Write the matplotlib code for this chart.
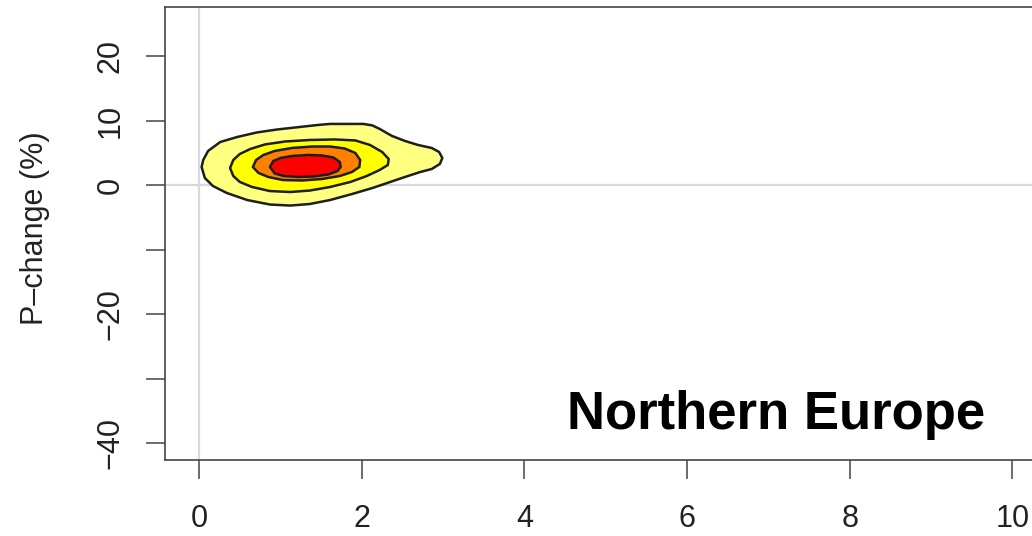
import numpy as np
import matplotlib
matplotlib.use('Agg')
import matplotlib.pyplot as plt

plt.rcParams['font.family'] = ['Liberation Sans', 'DejaVu Sans']

# contour outlines (x: value, y: P-change in %)
outer_x = [0.03, 0.05, 0.11, 0.26, 0.47, 0.71, 0.96, 1.24, 1.46, 1.61, 1.79, 2.02, 2.13,
           2.22, 2.37, 2.53, 2.69, 2.86, 2.95, 2.99, 2.96, 2.86, 2.72, 2.53, 2.35, 2.13,
           1.88, 1.61, 1.36, 1.12, 0.87, 0.59, 0.34, 0.17, 0.07]
outer_y = [2.84, 3.93, 5.33, 6.72, 7.50, 8.20, 8.66, 9.05, 9.36, 9.52, 9.52, 9.52, 9.29,
           8.74, 7.66, 6.88, 6.26, 5.79, 5.17, 4.24, 3.31, 2.53, 2.07, 1.29, 0.52, -0.42,
           -1.35, -2.28, -2.90, -3.14, -2.98, -2.28, -1.19, -0.11, 1.13]

mid_x = [0.38, 0.42, 0.50, 0.63, 0.81, 1.06, 1.36, 1.67, 1.92, 2.10, 2.25, 2.33, 2.32,
         2.22, 2.06, 1.86, 1.61, 1.36, 1.12, 0.87, 0.65, 0.50, 0.42]
mid_y = [2.69, 3.93, 4.86, 5.64, 6.34, 6.80, 7.03, 7.11, 6.96, 6.26, 5.17, 4.08, 3.15,
         2.38, 1.44, 0.52, -0.26, -0.81, -1.04, -0.89, -0.26, 0.52, 1.44]

inner_x = [0.66, 0.70, 0.79, 0.93, 1.14, 1.39, 1.61, 1.79, 1.92, 1.98, 1.97, 1.88, 1.73,
           1.51, 1.27, 1.03, 0.85, 0.73]
inner_y = [2.84, 3.93, 4.71, 5.33, 5.79, 6.02, 6.02, 5.71, 5.02, 3.93, 2.84, 2.07, 1.44,
           0.98, 0.75, 0.82, 1.29, 1.91]

core_x = [0.87, 0.91, 1.00, 1.14, 1.34, 1.51, 1.65, 1.73, 1.74, 1.70, 1.59, 1.41, 1.22,
          1.04, 0.93]
core_y = [2.84, 3.77, 4.24, 4.55, 4.71, 4.63, 4.32, 3.62, 2.84, 2.22, 1.68, 1.37, 1.29,
          1.44, 1.83]

# R heat.colors(4), lightest level outside
level_colors = ['#FFFF80', '#FFFF00', '#FF8000', '#FF0000']

xticks = [0, 2, 4, 6, 8, 10]
yticks = [-40, -30, -20, -10, 0, 10, 20]
ytick_labels = ['\u221240', '', '\u221220', '', '0', '10', '20']

W, H = 1032, 536
fig = plt.figure(figsize=(W / 100, H / 100), dpi=100)
# the plot box runs a little past the right edge of the picture
ax = fig.add_axes([165 / W, 76 / H, 880 / W, 453.3 / H])

ax.axvline(0, color='#d9d9d9', lw=1.6, zorder=0)
ax.axhline(0, color='#d9d9d9', lw=1.6, zorder=0)

levels = [(outer_x, outer_y), (mid_x, mid_y), (inner_x, inner_y), (core_x, core_y)]
for (px, py), col in zip(levels, level_colors):
    ax.fill(px, py, facecolor=col, edgecolor='#1e1e1e', lw=1.8, joinstyle='round', zorder=2)

ax.text(4.52, -37.84, 'Northern Europe', fontsize=38, fontweight='bold',
        ha='left', va='baseline', zorder=3)

ax.set_xlim(-0.42, 10.4)
ax.set_ylim(-42.6, 27.7)
ax.set_xticks(xticks)
ax.set_yticks(yticks)
ax.set_yticklabels(ytick_labels)
for lab in ax.get_yticklabels():
    lab.set_rotation(90)
    lab.set_va('center')

ax.tick_params(axis='both', direction='out', length=13.5, width=1.1, color='#444444',
               labelsize=22, labelcolor='#222222')
ax.tick_params(axis='x', pad=18)
ax.tick_params(axis='y', pad=15)
for s in ax.spines.values():
    s.set_color('#444444')
    s.set_linewidth(1.2)

fig.text(35 / W, 1 - 228 / H, 'P\u2013change (%)', rotation=90, fontsize=22,
         ha='center', va='center', color='#222222')

fig.savefig('out.png', dpi=100)
